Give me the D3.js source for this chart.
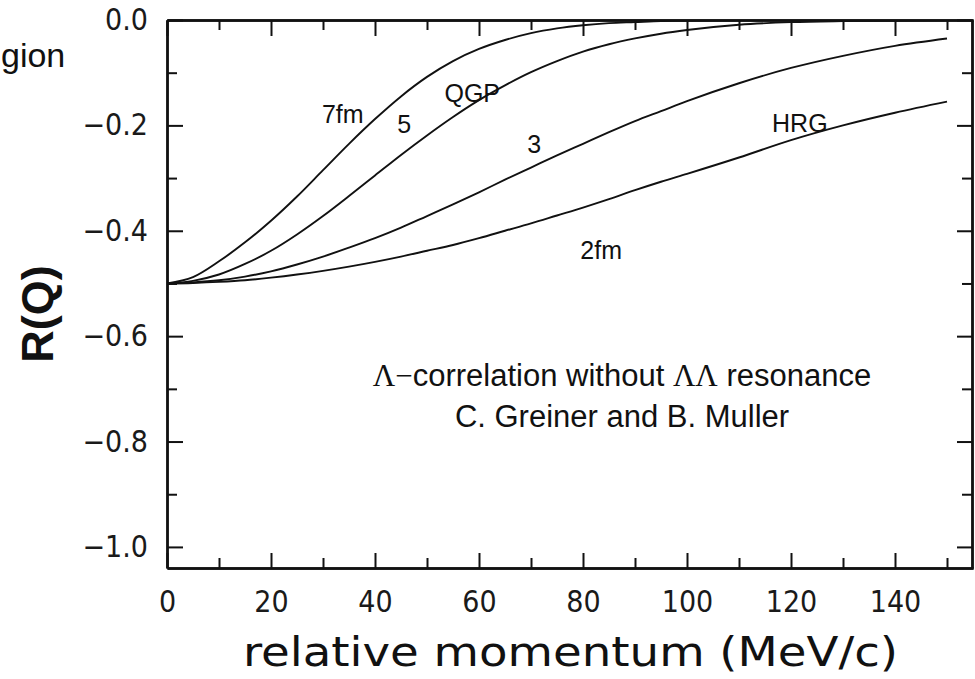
<!DOCTYPE html>
<html>
<head>
<meta charset="utf-8">
<script src="https://cdn.jsdelivr.net/npm/d3@7"></script>
<style>
  html, body { margin: 0; padding: 0; background: #fff; }
  svg { display: block; }
  .tick-label { font-family: 'DejaVu Sans Condensed', 'Liberation Sans Narrow', 'DejaVu Sans', sans-serif; }
</style>
</head>
<body>
<svg id="chart"></svg>
<script>
// relative momentum (MeV/c)
const momentum = [0, 5, 10, 15, 20, 25, 30, 35, 40, 45, 50, 55, 60, 65, 70, 75, 80, 85, 90, 95, 100, 110, 120, 130, 140, 150];

// R(Q) for source radius 7 fm, 5 fm, 3 fm, 2 fm
const r7fm = [-0.500, -0.488, -0.458, -0.422, -0.381, -0.335, -0.285, -0.235, -0.188, -0.145, -0.108, -0.078, -0.055, -0.038, -0.025, -0.016, -0.010, -0.006, -0.004, -0.002, -0.001, 0.000, 0.000, 0.000, 0.000, 0.000];
const r5fm = [-0.500, -0.495, -0.483, -0.463, -0.438, -0.407, -0.372, -0.334, -0.295, -0.256, -0.219, -0.184, -0.152, -0.124, -0.099, -0.078, -0.060, -0.046, -0.035, -0.026, -0.019, -0.009, -0.004, -0.002, -0.001, 0.000];
const r3fm = [-0.500, -0.498, -0.494, -0.487, -0.477, -0.464, -0.449, -0.432, -0.414, -0.394, -0.372, -0.350, -0.327, -0.303, -0.280, -0.257, -0.235, -0.213, -0.192, -0.173, -0.154, -0.120, -0.091, -0.068, -0.049, -0.035];
const r2fm = [-0.500, -0.499, -0.497, -0.494, -0.489, -0.483, -0.476, -0.468, -0.459, -0.449, -0.438, -0.427, -0.414, -0.400, -0.386, -0.371, -0.356, -0.340, -0.323, -0.307, -0.292, -0.261, -0.228, -0.200, -0.176, -0.155];

const xMajorTicks = [0, 20, 40, 60, 80, 100, 120, 140];
const xMinorTicks = [10, 30, 50, 70, 90, 110, 130, 150];
const yMajorTicks = [0, -0.2, -0.4, -0.6, -0.8, -1.0];
const yMinorTicks = [-0.1, -0.3, -0.5, -0.7, -0.9];

// curve labels, placed in data coordinates
const labelText = ['7fm', '5', 'QGP', '3', 'HRG', '2fm'];
const labelQ = [33.8, 45.6, 58.7, 70.6, 121.7, 83.5];
const labelR = [-0.178, -0.197, -0.139, -0.235, -0.195, -0.436];

const width = 975;
const height = 679;
const plot = { left: 167, top: 20, right: 973, bottom: 568 };

const svg = d3.select('#chart')
    .attr('width', width)
    .attr('height', height)
    .attr('viewBox', [0, 0, width, height]);

const x = d3.scaleLinear().domain([0, 155]).range([plot.left, plot.right]);
const y = d3.scaleLinear().domain([-1.04, 0]).range([plot.bottom, plot.top]);

const ink = '#111';

const styleAxis = g => {
  g.selectAll('.domain').attr('stroke', ink).attr('stroke-width', 2.4);
  g.selectAll('.tick line').attr('stroke', ink).attr('stroke-width', 2);
  g.selectAll('.tick text')
    .attr('class', 'tick-label')
    .attr('fill', '#1a1a1a')
    .attr('font-size', 30);
};

// bottom axis, ticks pointing up
svg.append('g')
    .attr('transform', `translate(0,${plot.bottom})`)
    .call(d3.axisBottom(x).tickValues(xMajorTicks).tickSize(-15).tickSizeOuter(0).tickPadding(23).tickFormat(d3.format('d')))
    .call(styleAxis);
svg.append('g')
    .attr('transform', `translate(0,${plot.bottom})`)
    .call(d3.axisBottom(x).tickValues(xMinorTicks).tickSize(-10).tickSizeOuter(0).tickFormat(''))
    .call(styleAxis);

// top axis
svg.append('g')
    .attr('transform', `translate(0,${plot.top})`)
    .call(d3.axisTop(x).tickValues(xMajorTicks).tickSize(-16).tickSizeOuter(0).tickFormat(''))
    .call(styleAxis);
svg.append('g')
    .attr('transform', `translate(0,${plot.top})`)
    .call(d3.axisTop(x).tickValues(xMinorTicks).tickSize(-10).tickSizeOuter(0).tickFormat(''))
    .call(styleAxis);

// left axis
svg.append('g')
    .attr('transform', `translate(${plot.left},0)`)
    .call(d3.axisLeft(y).tickValues(yMajorTicks).tickSize(-16).tickSizeOuter(0).tickPadding(19).tickFormat(d3.format('.1f')))
    .call(styleAxis);
svg.append('g')
    .attr('transform', `translate(${plot.left},0)`)
    .call(d3.axisLeft(y).tickValues(yMinorTicks).tickSize(-10).tickSizeOuter(0).tickFormat(''))
    .call(styleAxis);

// right axis
svg.append('g')
    .attr('transform', `translate(${plot.right - 1},0)`)
    .call(d3.axisRight(y).tickValues(yMajorTicks).tickSize(-15).tickSizeOuter(0).tickFormat(''))
    .call(styleAxis);
svg.append('g')
    .attr('transform', `translate(${plot.right - 1},0)`)
    .call(d3.axisRight(y).tickValues(yMinorTicks).tickSize(-10).tickSizeOuter(0).tickFormat(''))
    .call(styleAxis);

svg.append('clipPath')
    .attr('id', 'plot-clip')
  .append('rect')
    .attr('x', plot.left)
    .attr('y', plot.top)
    .attr('width', plot.right - plot.left)
    .attr('height', plot.bottom - plot.top);

const line = d3.line()
    .x((d, i) => x(momentum[i]))
    .y(d => y(d))
    .curve(d3.curveMonotoneX);

svg.append('g')
    .attr('clip-path', 'url(#plot-clip)')
    .attr('fill', 'none')
    .attr('stroke', ink)
    .attr('stroke-width', 1.9)
    .selectAll('path')
    .data([r7fm, r5fm, r3fm, r2fm])
    .join('path')
    .attr('d', line);

svg.append('g')
    .attr('font-family', 'Liberation Sans, Arial, sans-serif')
    .attr('font-size', 25)
    .attr('fill', ink)
    .attr('text-anchor', 'middle')
    .attr('dominant-baseline', 'central')
    .selectAll('text')
    .data(labelText)
    .join('text')
    .attr('x', (d, i) => x(labelQ[i]))
    .attr('y', (d, i) => y(labelR[i]))
    .text(d => d);

// axis titles
svg.append('text')
    .attr('class', 'tick-label')
    .attr('x', 243)
    .attr('y', 666)
    .attr('font-size', 41)
    .attr('textLength', 655)
    .attr('lengthAdjust', 'spacingAndGlyphs')
    .attr('fill', ink)
    .text('relative momentum (MeV/c)');

svg.append('text')
    .attr('transform', 'translate(53,314) rotate(-90)')
    .attr('text-anchor', 'middle')
    .attr('font-family', 'Liberation Sans, Arial, sans-serif')
    .attr('font-weight', 'bold')
    .attr('font-size', 45)
    .attr('fill', ink)
    .text('R(Q)');

// annotation
const note = svg.append('g')
    .attr('font-family', 'Liberation Sans, Arial, sans-serif')
    .attr('font-size', 31)
    .attr('fill', ink)
    .attr('text-anchor', 'middle');

const note1 = note.append('text').attr('x', 622).attr('y', 386);
note1.append('tspan').attr('font-family', 'Liberation Serif, Times New Roman, serif').text('Λ−');
note1.append('tspan').text('correlation without ');
note1.append('tspan').attr('font-family', 'Liberation Serif, Times New Roman, serif').text('ΛΛ');
note1.append('tspan').text(' resonance');

note.append('text')
    .attr('x', 622)
    .attr('y', 427)
    .text('C. Greiner and B. Muller');

// fragment of slide text left of the chart
svg.append('text')
    .attr('x', 1)
    .attr('y', 67)
    .attr('font-family', 'Liberation Sans, Arial, sans-serif')
    .attr('font-size', 34)
    .attr('fill', ink)
    .text('gion');
</script>
</body>
</html>
